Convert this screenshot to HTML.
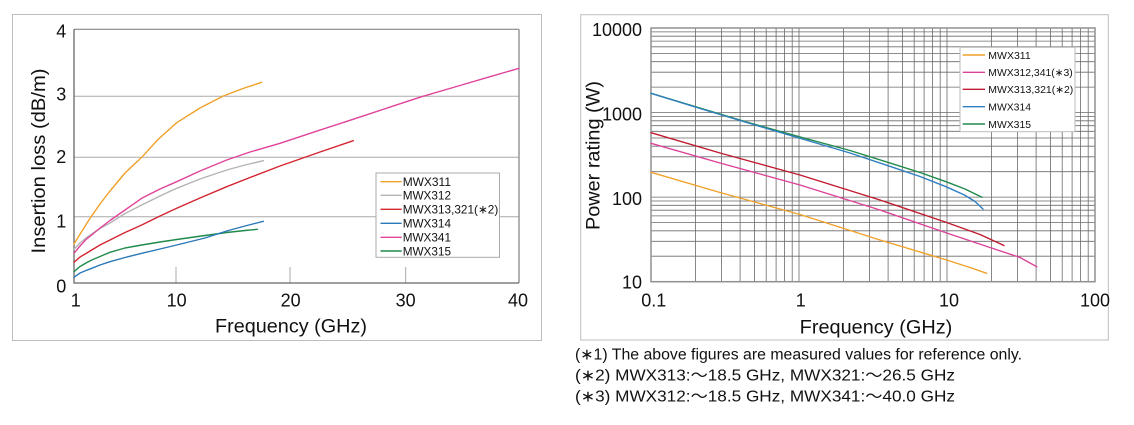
<!DOCTYPE html>
<html><head><meta charset="utf-8"><style>
html,body{margin:0;padding:0;background:#fff;width:1134px;height:425px;overflow:hidden}
svg{display:block}
text{font-family:"Liberation Sans","Noto Sans CJK JP",sans-serif;fill:#111}
</style></head><body>
<svg width="1134" height="425" viewBox="0 0 1134 425" xmlns="http://www.w3.org/2000/svg">
<!-- LEFT PANEL -->
<rect x="12.5" y="14.5" width="529" height="326" fill="#fff" stroke="#bdbdbd" stroke-width="1"/>
<path d="M74 96.3H519M74 157.3H519M74 216.7H519" stroke="#aaa" stroke-width="1" fill="none"/>
<path d="M176 267V283M290 267V283M405.7 267V283" stroke="#aaa" stroke-width="1" fill="none"/>
<path d="M74 29.3H519" stroke="#777" stroke-width="1" fill="none"/>
<path d="M519 29.3V283" stroke="#999" stroke-width="1.5" fill="none"/>
<path d="M74 29.3V283H519" stroke="#666" stroke-width="1.3" fill="none"/>
<g fill="none" stroke-width="1.4" stroke-linejoin="round" stroke-linecap="round">
<polyline stroke="#f0a12a" points="74,244 82,231 90.7,217.3 100,204 110,191 125,173 141.7,157.3 158,139.5 176.7,122.7 200,108 223.3,96 243,88.5 261.7,82.3"/>
<polyline stroke="#b4b4b4" points="74,249.3 80,243 86,238 91.7,234 100,228.5 110,223 125,213.5 141.7,205 160,196 176.7,188.3 200,179 226.7,170 245,165 263.4,160.7"/>
<polyline stroke="#d42430" points="74,262.3 80,257 86,253.5 91.7,250 100,245 110,240 125,232.5 141.7,225 160,216 176.7,208.3 200,198 226.7,186.7 250,177.5 280,166 320,152 353.3,140.7"/>
<polyline stroke="#e0449a" points="74,253.3 80,246 86,239.5 91.7,235 100,228 110,220.5 125,210 141.7,198.3 160,189 176.7,181.7 200,171 226.7,160 250,152 280,143.3 320,130.1 350,120.3 390,107.1 421.7,96.7 460,85.5 490,76.7 519,68.3"/>
<polyline stroke="#1f8a4c" points="74,271.7 80,266.5 86,263 91.7,260 100,256.5 110,252.3 125,248 141.7,245 160,242 176.7,239.5 205,235.5 226.7,232.5 245,230.5 257.3,229.3"/>
<polyline stroke="#2a78b8" points="74,277.3 80,273 86,270.5 91.7,268.3 100,265 110,261.7 125,257.5 141.7,253.3 160,249 176.7,245 205,238 226.7,231 245,226 263.4,221.3"/>
</g>
<rect x="376" y="173" width="123.5" height="84.3" fill="#fff" stroke="#aaa" stroke-width="1"/>
<g stroke-width="1.4">
<line x1="380.5" y1="181.7" x2="401.7" y2="181.7" stroke="#f0a12a"/>
<line x1="380.5" y1="195.3" x2="401.7" y2="195.3" stroke="#b4b4b4"/>
<line x1="380.5" y1="209.3" x2="401.7" y2="209.3" stroke="#d42430"/>
<line x1="380.5" y1="223.3" x2="401.7" y2="223.3" stroke="#2a78b8"/>
<line x1="380.5" y1="237.3" x2="401.7" y2="237.3" stroke="#e0449a"/>
<line x1="380.5" y1="251" x2="401.7" y2="251" stroke="#1f8a4c"/>
</g>
<g font-size="12">
<text x="402.7" y="186" textLength="48.3" lengthAdjust="spacingAndGlyphs">MWX311</text>
<text x="402.7" y="199.6" textLength="48.3" lengthAdjust="spacingAndGlyphs">MWX312</text>
<text x="402.7" y="213.6" textLength="95.6" lengthAdjust="spacingAndGlyphs">MWX313,321(∗2)</text>
<text x="402.7" y="227.6" textLength="48.3" lengthAdjust="spacingAndGlyphs">MWX314</text>
<text x="402.7" y="241.6" textLength="48.3" lengthAdjust="spacingAndGlyphs">MWX341</text>
<text x="402.7" y="255.3" textLength="48.3" lengthAdjust="spacingAndGlyphs">MWX315</text>
</g>
<g font-size="18" text-anchor="middle">
<text x="61.3" y="37.3">4</text>
<text x="61.3" y="100.7">3</text>
<text x="61.3" y="163">2</text>
<text x="61.3" y="227.5">1</text>
<text x="61.3" y="292.7">0</text>
<text x="75.7" y="306.7">1</text>
<text x="176.7" y="306.7">10</text>
<text x="290.7" y="306.7">20</text>
<text x="405.7" y="306.7">30</text>
<text x="518" y="306.7">40</text>
</g>
<text x="215" y="332.7" font-size="19" textLength="152" lengthAdjust="spacingAndGlyphs">Frequency (GHz)</text>
<text transform="translate(45,253.5) rotate(-90)" font-size="19" textLength="185" lengthAdjust="spacingAndGlyphs">Insertion loss (dB/m)</text>

<!-- RIGHT PANEL -->
<rect x="580.7" y="14.7" width="527.6" height="325.3" fill="#fff" stroke="#bdbdbd" stroke-width="1"/>
<path fill="none" stroke="#6a6a6a" stroke-width="0.8" d="M695.6 28V281.7M721.6 28V281.7M740.1 28V281.7M754.5 28V281.7M766.2 28V281.7M776.1 28V281.7M784.6 28V281.7M792.2 28V281.7M799 28V281.7M843.6 28V281.7M869.6 28V281.7M888.1 28V281.7M902.5 28V281.7M914.2 28V281.7M924.1 28V281.7M932.6 28V281.7M940.2 28V281.7M947 28V281.7M991.6 28V281.7M1017.6 28V281.7M1036.1 28V281.7M1050.5 28V281.7M1062.2 28V281.7M1072.1 28V281.7M1080.6 28V281.7M1088.2 28V281.7
M651 256.2H1095M651 241.3H1095M651 230.8H1095M651 222.6H1095M651 215.9H1095M651 210.2H1095M651 205.3H1095M651 201H1095M651 197.1H1095M651 171.7H1095M651 156.8H1095M651 146.2H1095M651 138H1095M651 131.3H1095M651 125.7H1095M651 120.8H1095M651 116.4H1095M651 112.6H1095M651 87.1H1095M651 72.2H1095M651 61.7H1095M651 53.5H1095M651 46.8H1095M651 41.1H1095M651 36.2H1095M651 31.9H1095"/>
<rect x="651" y="28" width="444" height="253.7" fill="none" stroke="#909090" stroke-width="1.5"/>
<g fill="none" stroke-width="1.4" stroke-linejoin="round" stroke-linecap="round">
<polyline stroke="#f0a12a" points="651,172.3 720,192.5 800,214.5 880,240 946.7,260 970,267.5 986.7,273.3"/>
<polyline stroke="#dc4398" points="651,143.3 720,163 800,185 880,210 946.7,233 990,247.5 1019.6,257.3 1036.8,266.7"/>
<polyline stroke="#c01a30" points="651,132.7 720,153 800,175 880,200 946.7,222.5 980,234.5 1004,245.5"/>
<polyline stroke="#1f8a4c" points="651,93.3 700,108 750,123 799,136.7 850,150.5 891,163.3 920,172.5 946,181.7 965,189 982,197.3"/>
<polyline stroke="#2f7fc0" points="651,93.3 700,108.5 750,123.5 799,138 850,153 891,166.7 920,176.5 946,186.7 964.4,195 975,201.5 983,209"/>
</g>
<rect x="960" y="47.3" width="115" height="84.4" fill="#fff" stroke="#bbb" stroke-width="1"/>
<g stroke-width="1.4">
<line x1="962.7" y1="55" x2="985" y2="55" stroke="#f0a12a"/>
<line x1="962.7" y1="72.3" x2="985" y2="72.3" stroke="#dc4398"/>
<line x1="962.7" y1="89.3" x2="985" y2="89.3" stroke="#c01a30"/>
<line x1="962.7" y1="106.7" x2="985" y2="106.7" stroke="#2f7fc0"/>
<line x1="962.7" y1="124" x2="985" y2="124" stroke="#1f8a4c"/>
</g>
<g font-size="10.5">
<text x="988.3" y="58.8" textLength="42.4" lengthAdjust="spacingAndGlyphs">MWX311</text>
<text x="988.3" y="76.1" textLength="84.4" lengthAdjust="spacingAndGlyphs">MWX312,341(∗3)</text>
<text x="988.3" y="93.1" textLength="85" lengthAdjust="spacingAndGlyphs">MWX313,321(∗2)</text>
<text x="988.3" y="110.5" textLength="42.7" lengthAdjust="spacingAndGlyphs">MWX314</text>
<text x="988.3" y="127.8" textLength="42.7" lengthAdjust="spacingAndGlyphs">MWX315</text>
</g>
<g font-size="18" text-anchor="end">
<text x="642" y="36">10000</text>
<text x="642" y="120.7">1000</text>
<text x="642" y="205">100</text>
<text x="642" y="288.7">10</text>
</g>
<g font-size="18" text-anchor="middle">
<text x="653.8" y="306.7">0.1</text>
<text x="800.8" y="306.7">1</text>
<text x="949" y="306.7">10</text>
<text x="1095" y="306.7">100</text>
</g>
<text x="799.7" y="333.3" font-size="19" textLength="152.6" lengthAdjust="spacingAndGlyphs">Frequency (GHz)</text>
<text transform="translate(599.4,230) rotate(-90)" font-size="19" textLength="149" lengthAdjust="spacingAndGlyphs">Power rating (W)</text>

<!-- footnotes -->
<g font-size="15.5">
<text x="575" y="359.5" textLength="447" lengthAdjust="spacingAndGlyphs">(∗1) The above figures are measured values for reference only.</text>
<text x="575" y="380.5" textLength="380" lengthAdjust="spacingAndGlyphs">(∗2) MWX313:～18.5 GHz, MWX321:～26.5 GHz</text>
<text x="575" y="401.5" textLength="380" lengthAdjust="spacingAndGlyphs">(∗3) MWX312:～18.5 GHz, MWX341:～40.0 GHz</text>
</g>
</svg>
</body></html>
